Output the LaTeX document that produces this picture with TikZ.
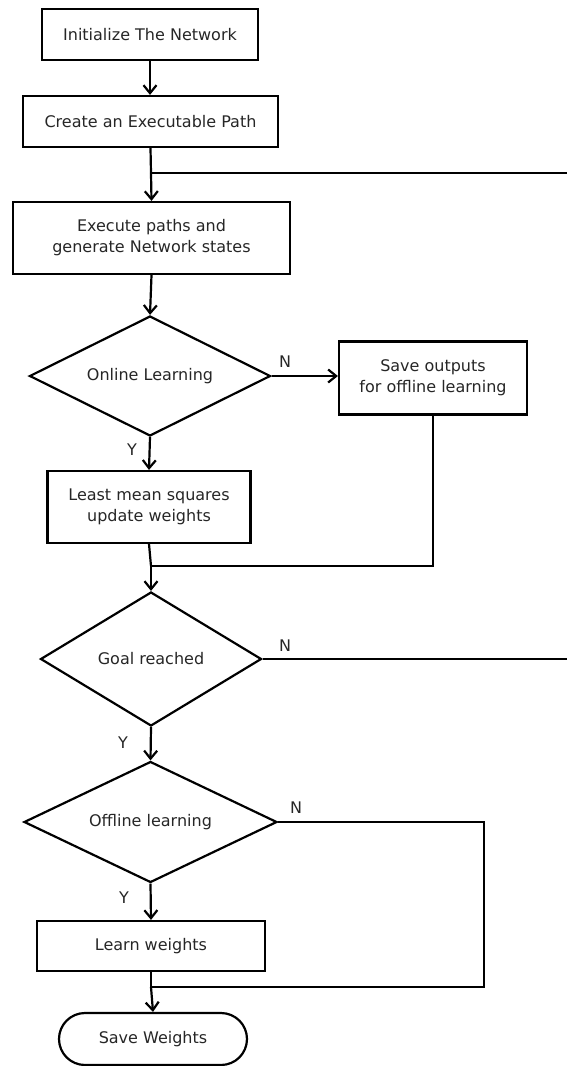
\documentclass[tikz,border=0pt]{standalone}
\usepackage{fontspec}
\setmainfont{DejaVu Sans}
\usetikzlibrary{shapes.geometric,shapes.misc,arrows.meta}

\tikzset{
  base/.style={draw=black, line width=2.2pt, inner sep=0pt, align=center,
    font=\fontsize{16}{21}\selectfont, text=black!85},
  process/.style={base, rectangle},
  decision/.style={base, diamond, shape aspect=2},
  terminal/.style={base, rounded rectangle},
  flow/.style={line width=2.2pt, -{Straight Barb[length=8pt,width=13pt]}},
  link/.style={line width=2.2pt},
  tag/.style={font=\fontsize{16}{21}\selectfont, text=black!85, inner sep=0pt}
}

\begin{document}
\begin{tikzpicture}[x=1pt, y=-1pt]
  \useasboundingbox (0,0) rectangle (566,1066);

  % main column of steps
  \node[process, minimum width=216pt, minimum height=51pt] (init) at (150,34.5) {Initialize The Network};
  \node[process, minimum width=255pt, minimum height=51pt] (path) at (150.5,121.5) {Create an Executable Path};
  \node[process, minimum width=277pt, minimum height=72pt] (exec) at (151.5,238) {Execute paths and\\generate Network states};
  \node[decision, minimum width=241pt, minimum height=120pt] (online) at (150,376) {Online Learning};
  \node[process, minimum width=188pt, minimum height=73pt] (save) at (433,378) {Save outputs\\for offline learning};
  \node[process, minimum width=203pt, minimum height=72pt] (lms) at (149,507) {Least mean squares\\update weights};
  \node[decision, minimum width=221pt, minimum height=134pt] (goal) at (151,659) {Goal reached};
  \node[decision, minimum width=253pt, minimum height=121pt] (offline) at (150.5,822) {Offline learning};
  \node[process, minimum width=228pt, minimum height=50pt] (learn) at (151,946) {Learn weights};
  \node[terminal, minimum width=188pt, minimum height=52pt] (store) at (153,1039) {Save Weights};

  % junction points and loop ends
  \coordinate (j1) at (151,173);
  \coordinate (r1) at (567,173);
  \coordinate (j2) at (151,566);
  \coordinate (c2) at (433,566);
  \coordinate (r2) at (567,659);
  \coordinate (j3) at (151,987);
  \coordinate (c3a) at (484,822);
  \coordinate (c3b) at (484,987);

  % connectors
  \draw[flow] (init) -- (init.south |- path.north);
  \draw[link] (path.south) -- (j1);
  \draw[flow] (j1) -- (exec.north);
  \draw[link] (j1) -- (r1);
  \draw[flow] (exec.south) -- (online.north);
  \draw[flow] (online.east) -- (save.west |- online.east);
  \draw[flow] (online.south) -- (lms.north);
  \draw[link] (save.south) -- (c2) -- (j2);
  \draw[link] (lms.south) -- (j2);
  \draw[flow] (j2) -- (goal.north);
  \draw[link] (goal.east) -- (r2);
  \draw[flow] (goal.south) -- (offline.north);
  \draw[flow] (offline.south) -- (learn.north);
  \draw[link] (offline.east) -- (c3a) -- (c3b) -- (j3);
  \draw[link] (learn.south) -- (j3);
  \draw[flow] (j3) -- (store.north);

  % branch labels
  \node[tag] (n1) at (285,362) {N};
  \node[tag] (y1) at (132,450) {Y};
  \node[tag] (n2) at (285,646) {N};
  \node[tag] (y2) at (123,743) {Y};
  \node[tag] (n3) at (296,808) {N};
  \node[tag] (y3) at (124,898) {Y};
\end{tikzpicture}
\end{document}
